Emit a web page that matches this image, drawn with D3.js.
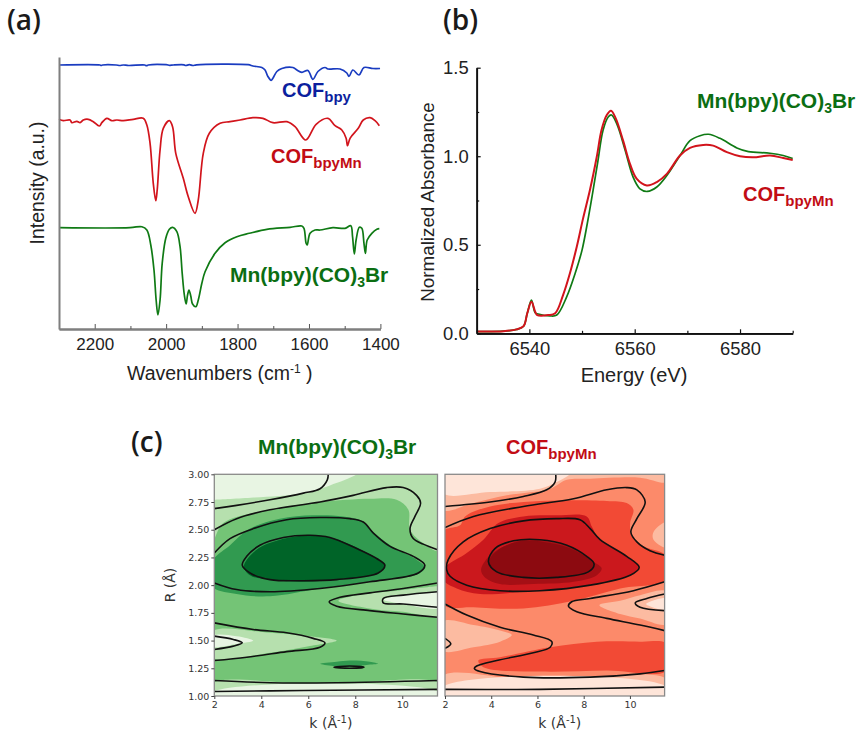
<!DOCTYPE html>
<html>
<head>
<meta charset="utf-8">
<script src="https://cdn.jsdelivr.net/npm/d3@7"></script>
<style>
  body { margin: 0; background: #fff; }
  text { font-family: "Liberation Sans", Arial, sans-serif; }
</style>
</head>
<body>
<div id="chart"></div>
<script>
// (a) IR spectra: [wavenumber, intensity in a.u.]
const irBpy = [[2300,264],[2185,264],[2182,263.5],[2178,264],[2140,264],[2130,263.5],[2120,264],[2105,263.5],[2060,264],[2055,263.3],[2050,264],[2000,264.3],[1990,263.7],[1980,264],[1950,264.2],[1945,263.5],[1935,264.3],[1925,263.5],[1915,264.2],[1770,264.3],[1757,263],[1732,261.5],[1723,259],[1715,252.5],[1706,248.7],[1701,250.7],[1690,257.5],[1676,260.5],[1645,261.5],[1634,259],[1620,256.7],[1603,258.5],[1589,249.7],[1575,257.5],[1555,261.5],[1547,260],[1513,260],[1494,256],[1488,252.5],[1477,259],[1460,254],[1446,261.5],[1421,260.5],[1401,260.5]];
const irBpyMn = [[2300,209.7],[2288,208.3],[2269,209],[2264,206.3],[2250,207.7],[2241,206.3],[2232,209],[2218,209.7],[2204,207.3],[2187,203],[2180,206.3],[2166,210.7],[2152,208.3],[2138,209],[2120,208.3],[2092,209.7],[2064,210.7],[2054,204],[2045,185.7],[2036,145.7],[2029,128.3],[2025,139],[2017,179],[2008,200.7],[1991,208.3],[1982,202.3],[1973,175.7],[1952,150.7],[1938,132.3],[1919,115.7],[1910,129],[1896,175.7],[1879,195.7],[1849,205.7],[1821,207.3],[1793,209],[1757,211.3],[1729,210.7],[1701,206.3],[1662,207.3],[1639,202.3],[1609,189],[1580,204.7],[1547,210.7],[1527,203.3],[1508,199],[1496,190.7],[1492,183.3],[1485,190.7],[1462,200.7],[1448,209],[1429,211.3],[1415,208.3],[1403,203.3]];
const irComplex = [[2300,101.3],[2101,101.3],[2068,102.3],[2054,99],[2043,84],[2034,59],[2028,29],[2023,14],[2017,29],[2011,65.7],[2001,90.7],[1991,99.7],[1982,101.7],[1970,97.3],[1961,82.3],[1955,55.7],[1949,34],[1944,25],[1940,34],[1936,39],[1931,33],[1926,25],[1917,22.3],[1910,29],[1900,45.7],[1891,57.3],[1863,75.7],[1835,86.3],[1802,92.3],[1767,95.7],[1718,99.7],[1653,101.7],[1620,103],[1614,100.7],[1608,85.7],[1605,84],[1597,95.7],[1583,99],[1569,99],[1533,101.3],[1499,100.7],[1483,103.3],[1478,92.3],[1473,75],[1468,89],[1459,101.7],[1452,100.7],[1446,85.7],[1442,75.7],[1437,89],[1424,95.7],[1410,99.7],[1403,100.3]];
const irMajorTicks = [2200, 2000, 1800, 1600, 1400];
const irMinorTicks = [2100, 1900, 1700, 1500];

// (b) XANES: [energy, normalized absorbance]
const xanesComplex = [[6530,0.01],[6535.1,0.012],[6537.6,0.022],[6538.9,0.04],[6539.6,0.113],[6540.4,0.188],[6541.1,0.116],[6541.7,0.109],[6543.9,0.098],[6545.2,0.103],[6547.1,0.207],[6548.7,0.339],[6550,0.47],[6551,0.62],[6552,0.79],[6553,0.97],[6554,1.148],[6555,1.223],[6555.6,1.233],[6556.7,1.176],[6558.2,1.032],[6559.7,0.882],[6561,0.816],[6562.4,0.801],[6564.2,0.826],[6566.1,0.891],[6568.6,1.004],[6570.5,1.088],[6572.4,1.116],[6574,1.124],[6576.2,1.101],[6579.4,1.047],[6581.6,1.026],[6585.7,1.017],[6588.2,1.004],[6590,0.987]];
const xanesCof = [[6530,0.01],[6535.1,0.012],[6537.6,0.022],[6538.9,0.04],[6539.6,0.113],[6540.4,0.178],[6541.1,0.122],[6541.5,0.103],[6543.6,0.103],[6544.9,0.113],[6546.4,0.216],[6547.7,0.339],[6549,0.489],[6550.2,0.649],[6551.5,0.809],[6552.8,0.997],[6553.7,1.148],[6554.7,1.233],[6555.5,1.257],[6556.4,1.214],[6557.8,1.088],[6559.1,0.957],[6560.4,0.872],[6562.3,0.835],[6564.2,0.854],[6566.1,0.9],[6568.6,1.004],[6570.5,1.047],[6573,1.064],[6574.9,1.06],[6577.5,1.023],[6580,1],[6582.5,0.994],[6585.7,1.004],[6588.2,0.99],[6590,0.979]];
const xanesMajorX = [6540, 6560, 6580];
const xanesMinorX = [6550, 6570, 6590];
const xanesMajorY = [0, 0.5, 1, 1.5];
const xanesMinorY = [0.25, 0.75, 1.25];

// (c) wavelet maps: [k, R] outlines
const kTicks = [2, 4, 6, 8, 10];
const rTicks = [1, 1.25, 1.5, 1.75, 2, 2.25, 2.5, 2.75, 3];

const gLightTop = [[1.9,3.05],[11.6,3.05],[11.6,2.31],[10.89,2.38],[10.33,2.5],[10.26,2.68],[9.76,2.77],[8.62,2.78],[6.5,2.75],[4.37,2.68],[2.38,2.56],[1.9,2.38]];
const gLightestTop = [[1.9,3.05],[8.3,3.05],[8.06,3],[6.92,2.9],[5.79,2.83],[3.66,2.79],[2,2.77],[1.9,2.77]];
const gBottomLight = [[1.9,0.95],[11.6,0.95],[11.6,1.11],[6.5,1.1],[1.9,1.11]];
const gBottomLightest = [[1.9,0.95],[11.6,0.95],[11.6,1.03],[1.9,1.03]];
const gIsland = [[7.28,1.86],[8.06,1.91],[9.76,1.95],[11.46,1.99],[11.6,1.99],[11.6,1.73],[10.04,1.76],[8.62,1.79]];
const gIslandCore = [[9.19,1.87],[10.04,1.91],[11.46,1.94],[11.6,1.94],[11.6,1.8],[10.04,1.83]];
const gLeft = [[1.9,1.58],[4.37,1.57],[6.07,1.54],[7.21,1.5],[6.07,1.45],[4.37,1.39],[1.9,1.35]];
const gLeftCore = [[1.9,1.54],[2.95,1.54],[3.66,1.5],[2.95,1.47],[1.9,1.45]];
const gSpot = [[6.5,1.29],[7.21,1.31],[7.77,1.32],[8.62,1.31],[8.98,1.29],[8.48,1.28],[7.77,1.26],[7.06,1.27]];
const gDark = [[1.9,2.21],[2.67,2.36],[3.52,2.51],[4.79,2.6],[6.21,2.63],[7.49,2.62],[8.27,2.58],[8.7,2.49],[9.55,2.35],[10.61,2.23],[10.96,2.16],[10.68,2.1],[8.62,2.03],[6.5,1.97],[4.37,1.9],[2.95,1.92],[1.9,1.99]];
const gDarkest = [[3.26,2.17],[3.8,2.32],[4.79,2.41],[6.07,2.45],[6.92,2.43],[8.06,2.34],[8.91,2.24],[9.26,2.18],[8.98,2.11],[7.21,2.05],[5.79,2.03],[4.37,2.05],[3.52,2.09]];

const gLines = [
  [[2,2.69],[2.95,2.72],[4.37,2.77],[5.79,2.83],[6.5,2.87],[6.81,2.95],[6.85,3]],
  [[2,2.5],[2.95,2.6],[4.37,2.68],[6.5,2.75],[7.91,2.81],[9.33,2.88],[10.04,2.88],[10.61,2.81],[10.78,2.74],[10.54,2.62],[10.33,2.51],[10.47,2.42],[10.89,2.37],[11.5,2.32]],
  [[2,2.29],[2.67,2.42],[3.66,2.51],[5.08,2.59],[6.5,2.61],[7.77,2.6],[8.34,2.57],[8.77,2.47],[9.48,2.35],[10.47,2.26],[10.96,2.18],[10.68,2.11],[8.62,2.03],[6.5,1.97],[4.37,1.94],[2.95,1.96],[2,2.02]],
  [[11.5,2.02],[10.04,1.97],[8.62,1.93],[7.35,1.89],[6.89,1.85],[7.21,1.81],[8.62,1.77],[10.04,1.74],[11.5,1.71]],
  [[11.5,1.94],[10.04,1.91],[9.19,1.88],[9.19,1.84],[10.04,1.83],[11.5,1.8]],
  [[2,1.66],[3.66,1.6],[5.08,1.57],[6.21,1.52],[6.71,1.48],[6.5,1.44],[5.08,1.4],[3.38,1.35],[2,1.32]],
  [[2,1.54],[2.81,1.51],[3.19,1.48],[2.81,1.45],[2,1.42]],
  [[2,1.14],[4.37,1.12],[7.21,1.12],[11.5,1.14]],
  [[2,1.04],[5.79,1.05],[11.5,1.06]]
];
const gLoops = [
  [[3.19,2.18],[3.38,2.26],[3.94,2.36],[4.94,2.43],[6.07,2.45],[6.92,2.43],[8.06,2.33],[8.91,2.24],[9.26,2.18],[8.98,2.11],[7.21,2.05],[5.79,2.04],[4.37,2.05],[3.52,2.11]],
  [[7.09,1.26],[7.77,1.27],[8.37,1.26],[7.77,1.25]]
];

const rLightTop = [[1.9,3.05],[11.6,3.05],[11.6,2.93],[10.44,2.97],[8.28,2.96],[7.27,2.95],[6.55,2.87],[4.67,2.81],[3.23,2.74],[1.9,2.68]];
const rLightestTop = [[1.9,3.05],[7.6,3.05],[7.41,3],[6.83,2.93],[6.11,2.87],[3.95,2.84],[1.9,2.83]];
const rRightPatch = [[11.6,2.57],[11.02,2.48],[11.02,2.41],[11.6,2.34]];
const rMid = [[1.9,2.48],[2.65,2.54],[2.87,2.62],[3.95,2.71],[6.11,2.76],[9,2.76],[9.86,2.74],[10.15,2.68],[10.01,2.56],[10.08,2.44],[10.59,2.35],[11.6,2.26],[11.6,2.05],[9.58,1.97],[7.56,1.86],[5.39,1.79],[3.23,1.8],[1.9,1.83]];
const rMidLow = [[3.44,1.32],[4.38,1.35],[6.55,1.44],[8.57,1.49],[10.44,1.49],[11.6,1.47],[11.6,1.23],[9,1.23],[6.11,1.22],[3.66,1.26]];
const rDark = [[4.31,2.56],[5.39,2.62],[6.83,2.63],[8.13,2.62],[8.35,2.53],[8.71,2.41],[9.86,2.26],[10.37,2.16],[9.86,2.08],[7.56,1.98],[5.39,1.94],[3.52,1.92],[2.51,1.97],[1.9,2.05],[1.9,2.14],[2.94,2.29],[3.66,2.41]];
const rDarker = [[3.56,2.14],[3.95,2.27],[4.67,2.36],[5.39,2.41],[6.55,2.39],[7.56,2.33],[8.42,2.21],[8.78,2.15],[8.57,2.09],[7.56,2.03],[5.82,2.01],[4.38,2.01],[3.73,2.07]];
const rCore = [[3.88,2.2],[4.31,2.32],[5.39,2.4],[6.55,2.38],[7.56,2.32],[8.35,2.21],[8.42,2.16],[8.13,2.11],[6.83,2.07],[5.39,2.07],[4.24,2.12]];
const rIsland = [[8.68,1.82],[9.58,1.86],[10.44,1.91],[11.6,1.94],[11.6,1.65],[10.44,1.7],[9.58,1.74]];
const rIslandCore = [[10.7,1.83],[11.6,1.88],[11.6,1.78]];
const rLeft = [[1.9,1.67],[3.23,1.64],[4.38,1.59],[4.89,1.55],[4.38,1.49],[3.23,1.44],[1.9,1.41]];
const rBottomLight = [[1.9,0.95],[11.6,0.95],[11.6,1.15],[6.11,1.13],[1.9,1.18]];
const rBottomLightest = [[1.9,0.95],[11.6,0.95],[11.6,1.08],[1.9,1.08]];

const rLines = [
  [[2,2.71],[3.95,2.75],[5.39,2.8],[6.4,2.86],[6.76,2.93],[6.79,3]],
  [[2,2.52],[3.23,2.62],[5.39,2.71],[7.56,2.78],[9,2.86],[9.86,2.88],[10.3,2.86],[10.66,2.75],[10.3,2.6],[10.04,2.48],[10.3,2.39],[10.87,2.31],[11.5,2.27]],
  [[11.5,2.03],[10.15,1.95],[8.28,1.88],[7.48,1.85],[7.34,1.81],[7.7,1.76],[9,1.7],[10.44,1.64],[11.5,1.59]],
  [[11.5,1.92],[10.73,1.88],[10.23,1.84],[10.44,1.8],[11.5,1.77]],
  [[2,1.83],[2.94,1.73],[4.38,1.62],[5.82,1.55],[6.62,1.49],[6.55,1.44],[5.82,1.39],[4.24,1.32],[3.37,1.27],[3.27,1.25],[3.52,1.22],[5.39,1.17],[8.28,1.17],[10.44,1.2],[11.5,1.23]],
  [[2,1.52],[2.25,1.47],[2,1.43]],
  [[2,1.06],[6.11,1.06],[11.5,1.08]]
];
const rLoops = [
  [[2.07,2.14],[2.14,2.23],[2.79,2.39],[3.95,2.51],[5.39,2.58],[6.83,2.6],[7.84,2.59],[8.28,2.51],[8.71,2.41],[9.86,2.26],[10.4,2.16],[10.01,2.09],[8.28,2],[6.11,1.95],[4.38,1.95],[2.94,2],[2.22,2.08]],
  [[3.88,2.21],[4.16,2.33],[4.96,2.4],[6.11,2.41],[7.27,2.36],[8.13,2.26],[8.45,2.19],[8.2,2.12],[6.83,2.07],[5.39,2.07],[4.24,2.12]]
];

const blue = "#1a3cc0", red = "#d2141c", green = "#0f7a14";
const blueText = "#0c1f9e", redText = "#c20c14", greenText = "#0b6e12";

const svg = d3.select("#chart").append("svg")
    .attr("width", 860)
    .attr("height", 734)
    .style("display", "block");

// label with a subscript, optionally followed by more text
const chem = (x, y, size, color, head, sub, tail, subSize) => {
  const t = svg.append("text").attr("x", x).attr("y", y)
      .attr("fill", color).attr("font-weight", "bold").attr("font-size", size);
  t.append("tspan").text(head);
  t.append("tspan").attr("dy", 5).attr("font-size", subSize).text(sub);
  if (tail) t.append("tspan").attr("dy", -5).text(tail);
};
const complexLabel = (x, y) => chem(x, y, 21, greenText, "Mn(bpy)(CO)", "3", "Br", 14);
const cofLabel = (x, y, sub) => chem(x, y, 20, redText, "COF", sub, null, 15);

const panelLabel = (x, y, s) => svg.append("text").attr("x", x).attr("y", y)
    .style("font-family", "'Open Sans'").attr("font-weight", 600)
    .attr("font-size", 28).attr("fill", "#1a1a1a").text(s);

panelLabel(7, 30, "(a)");
panelLabel(443, 30, "(b)");
panelLabel(131, 452, "(c)");

/******************************** (a) ********************************/
const xIr = d3.scaleLinear().domain([2300, 1400]).range([59, 380.4]);
const yIr = d3.scaleLinear().domain([0, 272]).range([329, 57]);
const irLine = d3.line().x(d => xIr(d[0])).y(d => yIr(d[1])).curve(d3.curveCatmullRom.alpha(0.5));

[[irBpy, blue], [irBpyMn, red], [irComplex, green]].forEach(([data, color]) => {
  svg.append("path").datum(data)
      .attr("fill", "none").attr("stroke", color).attr("stroke-width", 1.7)
      .attr("d", irLine);
});

const styleIrAxis = g => {
  g.selectAll("path").attr("stroke", "#7f7f7f").attr("stroke-width", 2);
  g.selectAll("line").attr("stroke", "#555");
  g.selectAll("text").attr("fill", "#222").attr("font-size", 17)
      .style("font-family", "'Liberation Sans'");
};
svg.append("g").attr("transform", "translate(0,329)")
    .call(d3.axisBottom(xIr).tickValues(irMajorTicks).tickSize(-5).tickSizeOuter(0).tickPadding(9).tickFormat(d3.format("d")))
    .call(styleIrAxis);
svg.append("g").attr("transform", "translate(0,329)")
    .call(d3.axisBottom(xIr).tickValues(irMinorTicks).tickSize(-3).tickSizeOuter(0).tickFormat(""))
    .call(styleIrAxis);
svg.append("g").attr("transform", "translate(59,0)")
    .call(d3.axisLeft(yIr).tickValues([]).tickSize(0))
    .call(styleIrAxis);

svg.append("text").attr("transform", "translate(44,183) rotate(-90)")
    .attr("text-anchor", "middle").attr("font-size", 19.4).attr("fill", "#222")
    .text("Intensity (a.u.)");
const irTitle = svg.append("text").attr("x", 127).attr("y", 380)
    .attr("font-size", 19.5).attr("fill", "#222");
irTitle.append("tspan").text("Wavenumbers (cm");
irTitle.append("tspan").attr("dy", -7).attr("font-size", 12).text("-1");
irTitle.append("tspan").attr("dy", 7).text(" )");

chem(282, 97, 20, blueText, "COF", "bpy", null, 15);
cofLabel(271, 163, "bpyMn");
complexLabel(230, 282);

/******************************** (b) ********************************/
const xXas = d3.scaleLinear().domain([6530, 6590]).range([476.7, 792.7]);
const yXas = d3.scaleLinear().domain([0, 1.5]).range([333.3, 67.7]);
const xasLine = d3.line().x(d => xXas(d[0])).y(d => yXas(d[1])).curve(d3.curveCatmullRom.alpha(0.5));

svg.append("path").datum(xanesComplex)
    .attr("fill", "none").attr("stroke", green).attr("stroke-width", 1.7).attr("d", xasLine);
svg.append("path").datum(xanesCof)
    .attr("fill", "none").attr("stroke", red).attr("stroke-width", 2).attr("d", xasLine);

const styleXasAxis = g => {
  g.selectAll("path").attr("stroke", "#111").attr("stroke-width", 1.7);
  g.selectAll("line").attr("stroke", "#111").attr("stroke-width", 1.2);
  g.selectAll("text").attr("fill", "#222").attr("font-size", 18.4)
      .style("font-family", "'Liberation Sans'");
};
svg.append("g").attr("transform", "translate(0,333.3)")
    .call(d3.axisBottom(xXas).tickValues(xanesMajorX).tickSize(-4).tickSizeOuter(0).tickPadding(9).tickFormat(d3.format("d")))
    .call(styleXasAxis);
svg.append("g").attr("transform", "translate(0,333.3)")
    .call(d3.axisBottom(xXas).tickValues(xanesMinorX).tickSize(-2.5).tickSizeOuter(0).tickFormat(""))
    .call(styleXasAxis);
svg.append("g").attr("transform", "translate(476.7,0)")
    .call(d3.axisLeft(yXas).tickValues(xanesMajorY).tickSize(-4).tickSizeOuter(0).tickPadding(8).tickFormat(d3.format(".1f")))
    .call(styleXasAxis);
svg.append("g").attr("transform", "translate(476.7,0)")
    .call(d3.axisLeft(yXas).tickValues(xanesMinorY).tickSize(-2.5).tickSizeOuter(0).tickFormat(""))
    .call(styleXasAxis);

svg.append("text").attr("transform", "translate(434,202) rotate(-90)")
    .attr("text-anchor", "middle").attr("font-size", 18.8).attr("fill", "#222")
    .text("Normalized Absorbance");
svg.append("text").attr("x", 634).attr("y", 382)
    .attr("text-anchor", "middle").attr("font-size", 20).attr("fill", "#222")
    .text("Energy (eV)");

complexLabel(697, 108);
cofLabel(743, 201, "bpyMn");

/******************************** (c) ********************************/
const yR = d3.scaleLinear().domain([1, 3]).range([696, 474.3]);

const drawMap = (id, left, right, base, layers, lines, loops) => {
  const xK = d3.scaleLinear().domain([2, 11.5]).range([left, right]);
  svg.append("clipPath").attr("id", id).append("rect")
      .attr("x", left).attr("y", 474.3).attr("width", right - left).attr("height", 221.7);

  const g = svg.append("g").attr("clip-path", `url(#${id})`);
  g.append("rect").attr("x", left).attr("y", 474.3)
      .attr("width", right - left).attr("height", 221.7).attr("fill", base);

  const area = d3.line().x(d => xK(d[0])).y(d => yR(d[1])).curve(d3.curveCatmullRomClosed.alpha(0.5));
  const open = d3.line().x(d => xK(d[0])).y(d => yR(d[1])).curve(d3.curveCatmullRom.alpha(0.5));

  layers.forEach(([data, color]) => {
    g.append("path").datum(data).attr("fill", color).attr("d", area);
  });
  lines.forEach(data => {
    g.append("path").datum(data).attr("fill", "none").attr("stroke", "#111")
        .attr("stroke-width", 1.6).attr("d", open);
  });
  loops.forEach(data => {
    g.append("path").datum(data).attr("fill", "none").attr("stroke", "#111")
        .attr("stroke-width", 1.6).attr("d", area);
  });

  svg.append("rect").attr("x", left).attr("y", 474.3)
      .attr("width", right - left).attr("height", 221.7)
      .attr("fill", "none").attr("stroke", "#8a8a8a").attr("stroke-width", 1.3);

  svg.append("g").attr("transform", "translate(0,696)")
      .call(d3.axisBottom(xK).tickValues(kTicks).tickSize(3).tickPadding(2))
      .call(s => s.select(".domain").remove())
      .call(s => s.selectAll("line").attr("stroke", "#444"))
      .call(s => s.selectAll("text").attr("fill", "#333").attr("font-size", 9.5)
          .style("font-family", "'DejaVu Sans'"));

  const lab = svg.append("text").attr("x", (left + right) / 2 + 5).attr("y", 728)
      .attr("text-anchor", "middle").attr("font-size", 14).attr("fill", "#333")
      .style("font-family", "'DejaVu Sans'");
  lab.append("tspan").text("k (Å");
  lab.append("tspan").attr("dy", -5).attr("font-size", 10).text("-1");
  lab.append("tspan").attr("dy", 5).text(")");
};

drawMap("mapG", 214.3, 437.5, "#74c476", [
  [gLightTop, "#b6e0ae"], [gLightestTop, "#e8f5e3"],
  [gBottomLight, "#b6e0ae"], [gBottomLightest, "#e8f5e3"],
  [gIsland, "#b6e0ae"], [gIslandCore, "#e8f5e3"],
  [gLeft, "#b6e0ae"], [gLeftCore, "#e8f5e3"],
  [gSpot, "#319a50"], [gDark, "#319a50"], [gDarkest, "#006428"]
], gLines, gLoops);

drawMap("mapR", 445, 664.6, "#fc8a6a", [
  [rLightTop, "#fcbba1"], [rLightestTop, "#fee5d9"], [rRightPatch, "#fcbba1"],
  [rBottomLight, "#fcbba1"], [rBottomLightest, "#fee5d9"],
  [rMid, "#f24a35"], [rMidLow, "#f24a35"],
  [rIsland, "#fcbba1"], [rIslandCore, "#fee5d9"], [rLeft, "#fcbba1"],
  [rDark, "#cb181d"], [rDarker, "#a50f15"], [rCore, "#8c0a10"]
], rLines, rLoops);

svg.append("g").attr("transform", "translate(214.3,0)")
    .call(d3.axisLeft(yR).tickValues(rTicks).tickSize(3).tickPadding(2).tickFormat(d3.format(".2f")))
    .call(s => s.select(".domain").remove())
    .call(s => s.selectAll("line").attr("stroke", "#444"))
    .call(s => s.selectAll("text").attr("fill", "#333").attr("font-size", 9.5)
        .style("font-family", "'DejaVu Sans'"));
svg.append("text").attr("transform", "translate(175,585) rotate(-90)")
    .attr("text-anchor", "middle").attr("font-size", 14).attr("fill", "#333")
    .style("font-family", "'DejaVu Sans'").text("R (Å)");

complexLabel(258, 454);
cofLabel(506, 454, "bpyMn");
</script>
</body>
</html>
